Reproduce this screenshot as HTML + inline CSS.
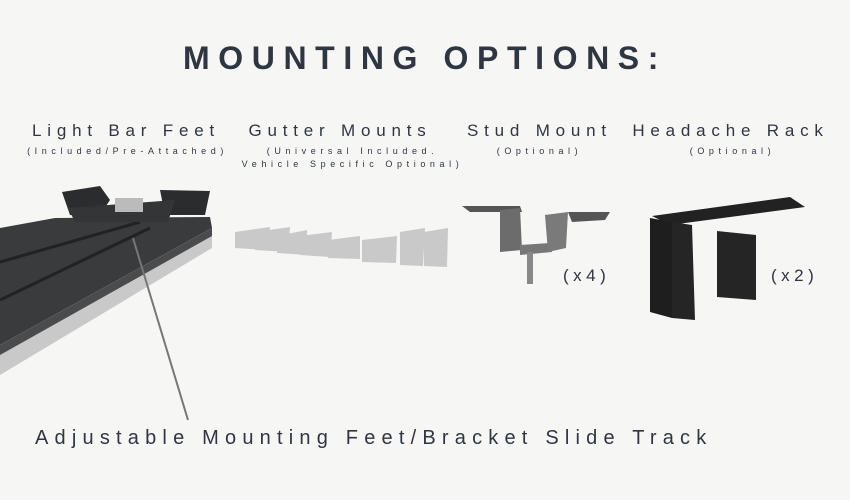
<!DOCTYPE html>
<html><head><style>
body{margin:0;width:850px;height:500px;background:#f6f6f5;font-family:"Liberation Sans",sans-serif;color:#2f3642;position:relative;overflow:hidden}
.t{position:absolute;white-space:nowrap;text-align:center}
.h{font-size:17px;letter-spacing:5.8px}
.s{font-size:9px;letter-spacing:4.6px;line-height:13px}
</style></head><body>
<div class="t" style="left:0;width:850px;top:40px;font-size:32px;font-weight:bold;letter-spacing:8.6px;padding-left:0">MOUNTING OPTIONS:</div>
<div class="t h" style="left:16px;width:220px;top:121px">Light Bar Feet</div>
<div class="t s" style="left:20px;width:215px;top:145px">(Included/Pre-Attached)</div>
<div class="t h" style="left:240px;width:200px;top:121px">Gutter Mounts</div>
<div class="t s" style="left:235px;width:235px;top:145px">(Universal Included.<br>Vehicle Specific Optional)</div>
<div class="t h" style="left:462px;width:155px;top:121px">Stud Mount</div>
<div class="t s" style="left:462px;width:155px;top:145px">(Optional)</div>
<div class="t h" style="left:628px;width:205px;top:121px">Headache Rack</div>
<div class="t s" style="left:630px;width:205px;top:145px">(Optional)</div>
<div class="t" style="left:563px;top:266px;font-size:17px;letter-spacing:4.5px">(x4)</div>
<div class="t" style="left:771px;top:266px;font-size:17px;letter-spacing:4.5px">(x2)</div>
<div class="t" style="left:35px;top:427px;font-size:20px;letter-spacing:6.2px">Adjustable Mounting Feet/Bracket Slide Track</div>
<svg width="850" height="500" style="position:absolute;left:0;top:0">
<polygon points="0,228 55,218 210,217 212,228 0,345" fill="#3a3b3d"/>
<polygon points="212,228 212,248 0,375 0,345" fill="#c9c9ca"/>
<polygon points="212,228 212,236 0,355 0,345" fill="#4a4b4d"/>
<line x1="0" y1="262" x2="140" y2="222" stroke="#222" stroke-width="3"/>
<line x1="0" y1="300" x2="150" y2="228" stroke="#222" stroke-width="3"/>
<polygon points="62,192 100,186 110,200 100,215 70,215" fill="#2b2c2e"/>
<polygon points="160,190 210,191 205,215 165,215" fill="#2b2c2e"/>
<polygon points="68,208 175,200 168,222 75,222" fill="#343537"/>
<rect x="115" y="198" width="28" height="14" fill="#bbb"/>
<line x1="133" y1="238" x2="188" y2="420" stroke="#777" stroke-width="2"/>
<g fill="#c9c9c9">
<polygon points="235,232 270,227 268,250 235,248"/>
<polygon points="255,232 290,227 288,252 255,250"/>
<polygon points="277,236 307,230 307,255 277,253"/>
<polygon points="300,236 332,232 330,257 300,255"/>
<polygon points="328,240 360,236 360,259 328,258"/>
<polygon points="362,240 397,236 396,263 362,262"/>
<polygon points="400,232 425,228 423,266 400,265"/>
<polygon points="424,232 448,228 447,267 424,266"/>
</g>
<polygon points="462,206 520,206 522,212 470,212" fill="#555"/>
<polygon points="568,212 610,212 605,220 572,222" fill="#555"/>
<polygon points="500,210 520,208 522,250 500,252" fill="#6c6c6c"/>
<polygon points="520,245 550,243 552,252 520,255" fill="#777"/>
<polygon points="545,215 568,212 566,248 548,252" fill="#7a7a7a"/>
<rect x="527" y="252" width="6" height="32" fill="#888"/>
<polygon points="652,216 790,197 805,207 670,225" fill="#222"/>
<polygon points="650,218 672,222 672,318 650,312" fill="#1e1e1e"/>
<polygon points="672,222 692,225 695,320 672,318" fill="#252525"/>
<polygon points="717,231 756,235 756,300 717,297" fill="#252525"/>
</svg>
</body></html>
